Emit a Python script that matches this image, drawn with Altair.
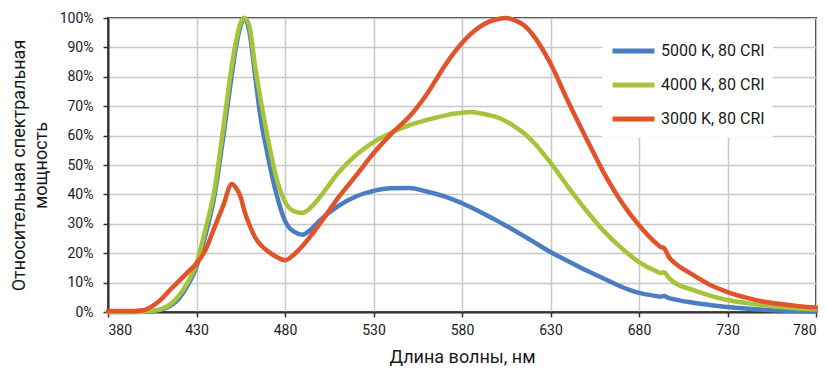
import altair as alt
import pandas as pd

SERIES = ["5000 K, 80 CRI", "4000 K, 80 CRI", "3000 K, 80 CRI"]
COLORS = ["#4A7EC0", "#A6C43B", "#E1532A"]

WAVELENGTHS = [380, 390, 400, 405, 410, 415, 420, 425, 430, 435, 440, 445, 450, 452, 455, 457,
               460, 463, 466, 470, 475, 480, 485, 490, 495, 500, 510, 520, 530, 540, 550, 560,
               570, 575, 580, 585, 590, 595, 600, 605, 610, 615, 620, 630, 640, 650, 660, 670, 680,
               690, 692, 694, 697, 700, 710, 720, 730, 740, 750, 760, 770, 780]

BLUE_5000K = [0, 0, 0.1, 0.3, 0.8, 2, 4.5, 9, 15.5, 26, 39, 59, 81, 89, 97.5, 100,
              95, 81, 67, 54, 40.5, 31, 27.3, 26.3, 28.3, 31.3, 36, 39.3, 41.2, 42.1, 42.2, 41,
              39.3, 38.2, 37, 35.6, 34.1, 32.6, 31, 29.3, 27.6, 25.8, 24, 20.4, 17.3, 14.2, 11.4, 8.6, 6.5,
              5.4, 5.2, 5.4, 4.7, 4.3, 3.2, 2.4, 1.7, 1.2, 0.8, 0.5, 0.35, 0.2]

GREEN_4000K = [0, 0, 0.1, 0.4, 1, 2.5, 5.5, 10, 16.5, 28, 41, 62, 84, 91, 98.5, 100,
               97, 84, 73, 60, 46, 37.5, 34.3, 33.7, 35.8, 39.3, 47.3, 53.3, 57.8, 61, 63.5, 65.3,
               66.8, 67.4, 67.8, 68, 67.6, 67, 66.2, 64.8, 63, 60.8, 58, 50.8, 42.5, 34.7, 27.6, 21.8, 17,
               13.8, 13.3, 13.5, 11.5, 10, 7.6, 5.6, 4.1, 3.1, 2.3, 1.7, 1.2, 0.9]

RED_3000K = [0.3, 0.3, 0.6, 2, 4.3, 7.5, 10.5, 13.5, 16.5, 21, 28.5, 36, 43.5, 42.5, 39, 34.5,
             29.5, 25.5, 23, 20.8, 18.8, 17.6, 19.5, 22.5, 26.2, 30.3, 38.8, 46.3, 54, 60.6, 66.3, 74,
             83.5, 87.8, 91.5, 94.6, 97, 98.7, 99.6, 100, 99.2, 97.5, 94.3, 84.5, 71.5, 59.3, 47.5, 37.5, 29.5,
             23.2, 22.2, 21.8, 18.6, 16.8, 12.8, 9.3, 6.8, 5, 3.6, 2.7, 2, 1.5]

X_TICKS = [380, 430, 480, 530, 580, 630, 680, 730, 780]
Y_TICKS = [0, 10, 20, 30, 40, 50, 60, 70, 80, 90, 100]

rows = []
for k, (name, vals) in enumerate(zip(SERIES, [BLUE_5000K, GREEN_4000K, RED_3000K])):
    for w, v in zip(WAVELENGTHS, vals):
        rows.append({"series": name, "nm": w, "v": v, "k": k})
df = pd.DataFrame(rows)

FONT = "Roboto, Liberation Sans, sans-serif"

chart = alt.Chart(df).mark_line(strokeWidth=4.5, interpolate="monotone",
                                strokeCap="round", strokeJoin="round").encode(
    x=alt.X("nm:Q",
            scale=alt.Scale(domain=[380, 780], nice=False, zero=False),
            axis=alt.Axis(values=X_TICKS, title="Длина волны, нм", titlePadding=11)),
    y=alt.Y("v:Q",
            scale=alt.Scale(domain=[0, 100], nice=False),
            axis=alt.Axis(values=Y_TICKS, labelExpr="datum.value + '%'",
                          title=["Относительная спектральная", "мощность"],
                          titlePadding=9, labelPadding=10)),
    color=alt.Color("series:N", sort=SERIES,
                    scale=alt.Scale(domain=SERIES, range=COLORS),
                    legend=alt.Legend(title=None, orient="none", legendX=494, legendY=1.5,
                                      fillColor="white", padding=8,
                                      symbolType="stroke", symbolSize=1764,
                                      symbolStrokeWidth=5, labelFontSize=16,
                                      labelFont=FONT, labelColor="#1a1a1a",
                                      labelOffset=4, rowPadding=-2)),
    order=alt.Order("k:Q"),
).properties(
    width=708, height=294,
    autosize=alt.AutoSizeParams(type="none"),
    padding={"left": 100, "top": 10, "right": 3, "bottom": 56},
).configure_axis(
    labelFont=FONT, titleFont=FONT, labelFontSize=14, titleFontSize=18,
    labelColor="#1a1a1a", titleColor="#1a1a1a", titleFontWeight="normal",
    gridColor="#C8C8C8", gridWidth=1.5, domainColor="#333333", domainWidth=2,
    tickColor="#333333", tickWidth=1.5, tickSize=5, labelPadding=6,
    titleLineHeight=22,
).configure_view(
    stroke="#333333", strokeWidth=2,
)

chart.save("out.html", embed_options={"renderer": "svg", "actions": False})
